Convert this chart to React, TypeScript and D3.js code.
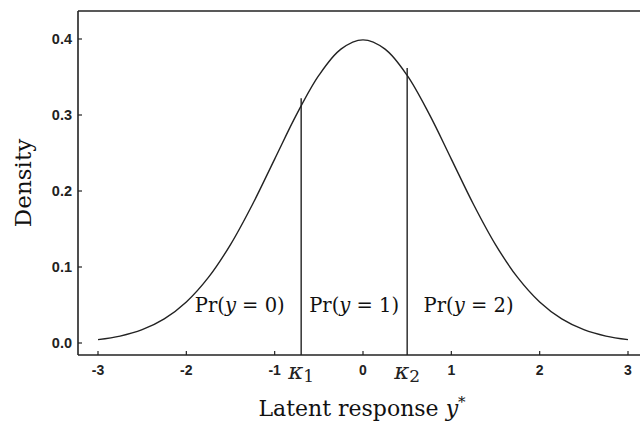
import React from "react";
import * as d3 from "d3";

// Density curve points (standard normal shape)
const xs = [-3, -2.75, -2.5, -2.25, -2, -1.75, -1.5, -1.25, -1, -0.75, -0.5, -0.25, 0, 0.25, 0.5, 0.75, 1, 1.25, 1.5, 1.75, 2, 2.25, 2.5, 2.75, 3];
const densities = [0.0044, 0.0091, 0.0175, 0.0317, 0.054, 0.0863, 0.1295, 0.1826, 0.242, 0.3011, 0.3521, 0.3867, 0.3989, 0.3867, 0.3521, 0.3011, 0.242, 0.1826, 0.1295, 0.0863, 0.054, 0.0317, 0.0175, 0.0091, 0.0044];

const cutpoints = [-0.7, 0.5];
const cutpointTops = [0.322, 0.362];
const cutpointLabels = ["1", "2"];

const xTicks = [-3, -2, -1, 0, 1, 2, 3];
const yTicks = [0, 0.1, 0.2, 0.3, 0.4];

const regionLabels = ["0", "1", "2"];
const regionCenters = [-1.395, -0.1, 1.195];

export default function App() {
  const W = 640, H = 423;
  const left = 78, top = 11, bottom = 355, right = 640;
  const x = d3.scaleLinear().domain([-3, 3]).range([98, 628]);
  const y = d3.scaleLinear().domain([0, 0.4]).range([343, 39]);
  const pts = xs.map((v, i) => [v, densities[i]] as [number, number]);
  const line = d3.line<[number, number]>().x(d => x(d[0])).y(d => y(d[1])).curve(d3.curveCatmullRom.alpha(0.5));
  const stroke = "#222";
  const serif = "'DejaVu Serif', 'Liberation Serif', serif";
  const sans = "'Liberation Sans', Arial, sans-serif";
  return (
    <svg width={W} height={H} style={{ position: "absolute", left: 0, top: 0, background: "#fff" }}>
      <rect x={0} y={0} width={W} height={H} fill="#fff" />
      {/* frame */}
      <line x1={left} y1={top} x2={right} y2={top} stroke={stroke} strokeWidth={1.6} />
      <line x1={left} y1={top} x2={left} y2={bottom} stroke={stroke} strokeWidth={1.6} />
      <line x1={left} y1={bottom} x2={right} y2={bottom} stroke={stroke} strokeWidth={1.6} />
      {/* x ticks */}
      {xTicks.map(t => (
        <g key={"x" + t}>
          <line x1={x(t)} x2={x(t)} y1={bottom} y2={bottom - 4} stroke={stroke} strokeWidth={1.2} />
          <text x={x(t)} y={374.5} textAnchor="middle" fontFamily={sans} fontWeight="bold" fontSize={14} fill="#222">{t}</text>
        </g>
      ))}
      {/* y ticks */}
      {yTicks.map(t => (
        <g key={"y" + t}>
          <line x1={left} x2={left + 4} y1={y(t)} y2={y(t)} stroke={stroke} strokeWidth={1.2} />
          <text x={72} y={y(t) + 5} textAnchor="end" fontFamily={sans} fontWeight="bold" fontSize={14.5} fill="#222">{t.toFixed(1)}</text>
        </g>
      ))}
      {/* density curve */}
      <path d={line(pts) || ""} fill="none" stroke={stroke} strokeWidth={1.4} />
      {/* cutpoints */}
      {cutpoints.map((c, i) => (
        <g key={"c" + i}>
          <line x1={x(c)} x2={x(c)} y1={y(cutpointTops[i])} y2={bottom} stroke={stroke} strokeWidth={1.4} />
          <text x={x(c)} y={379} textAnchor="middle" fontFamily={serif} fontSize={23} fill="#222">
            <tspan fontStyle="italic">κ</tspan>
            <tspan fontSize={17} dy={3}>{cutpointLabels[i]}</tspan>
          </text>
        </g>
      ))}
      {/* region labels */}
      {regionLabels.map((l, i) => (
        <text key={"r" + i} x={x(regionCenters[i])} y={312} textAnchor="middle" fontFamily={serif} fontSize={19.5} fill="#111">
          Pr(<tspan fontStyle="italic">y</tspan> = {l})
        </text>
      ))}
      {/* axis titles */}
      <text x={362} y={416} textAnchor="middle" fontFamily={serif} fontSize={22} fill="#111">
        Latent response <tspan fontStyle="italic">y</tspan><tspan fontSize={15} dy={-9}>*</tspan>
      </text>
      <text transform="translate(31,183) rotate(-90)" textAnchor="middle" fontFamily={serif} fontSize={23} fill="#111">Density</text>
    </svg>
  );
}
